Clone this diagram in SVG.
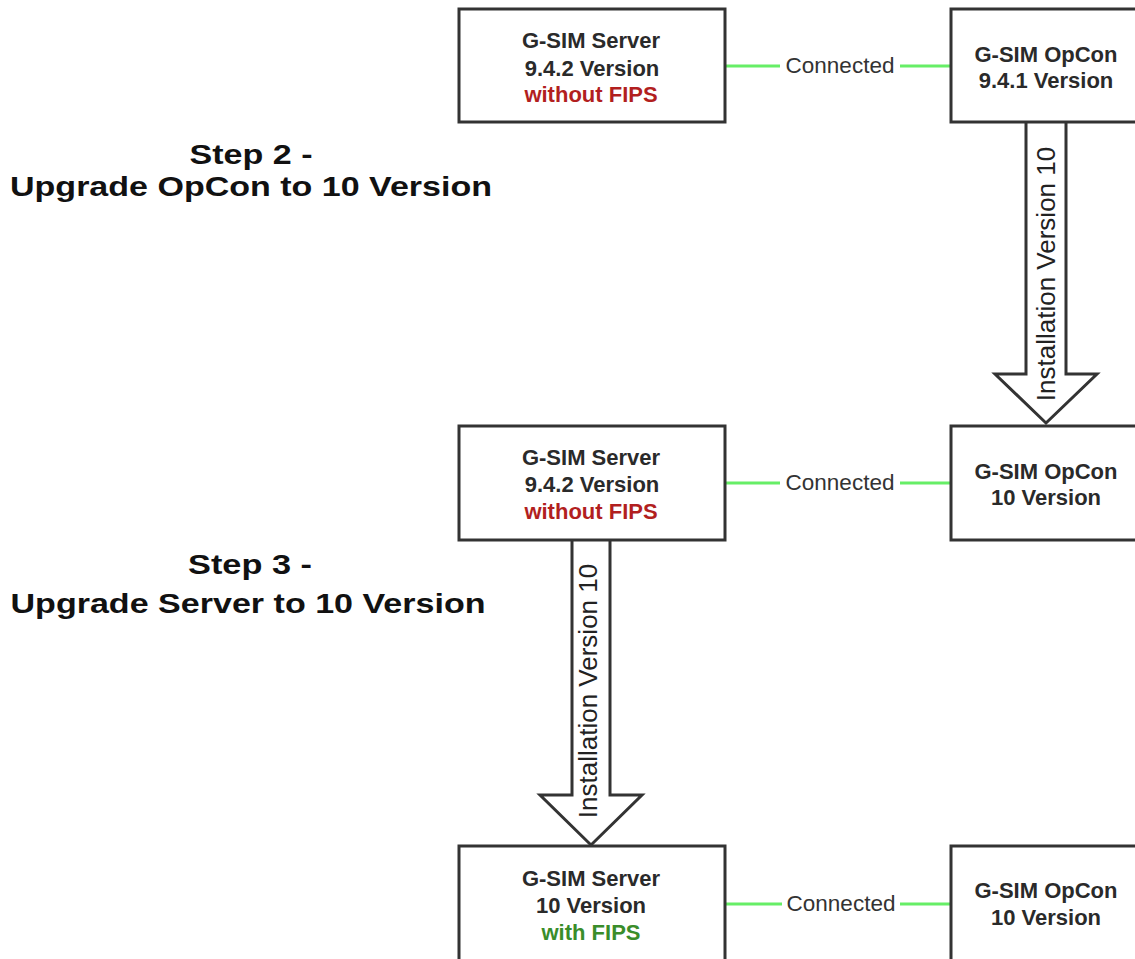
<svg xmlns="http://www.w3.org/2000/svg" width="1135" height="959" viewBox="0 0 1135 959">
<style>
.box{fill:#fff;stroke:#333;stroke-width:3}
.bt{font-family:"Liberation Sans",Arial,sans-serif;font-size:22px;font-weight:bold;fill:#2a2a2a;text-anchor:middle}
.red{fill:#b21f1f}
.grn{fill:#3a8d2a}
.conn{stroke:#66ee66;stroke-width:3;fill:none}
.cl{font-family:"Liberation Sans",Arial,sans-serif;font-size:22.5px;fill:#333;text-anchor:middle}
.arr{fill:#fff;stroke:#333;stroke-width:3;stroke-linejoin:miter}
.al{font-family:"Liberation Sans",Arial,sans-serif;font-size:26px;fill:#222;text-anchor:middle}
.title{font-family:"Liberation Sans",Arial,sans-serif;font-size:28px;font-weight:bold;fill:#111;text-anchor:middle}
</style>
<rect width="1135" height="959" fill="#fff"/>
<g id="connectors">
  <line class="conn" x1="725" y1="66" x2="780" y2="66"/>
  <line class="conn" x1="900" y1="66" x2="951" y2="66"/>
  <text class="cl" x="840" y="73">Connected</text>
  <line class="conn" x1="725" y1="483" x2="780" y2="483"/>
  <line class="conn" x1="900" y1="483" x2="951" y2="483"/>
  <text class="cl" x="840" y="490">Connected</text>
  <line class="conn" x1="725" y1="904" x2="782" y2="904"/>
  <line class="conn" x1="900" y1="904" x2="951" y2="904"/>
  <text class="cl" x="841" y="911">Connected</text>
  <path class="arr" d="M1026,122 L1026,374 L995,374 L1046,423 L1097,374 L1066,374 L1066,122"/>
  <text class="al" transform="translate(1055,274) rotate(-90)">Installation Version 10</text>
  <path class="arr" d="M572,540 L572,795 L540,795 L591,845 L642,795 L610,795 L610,540"/>
  <text class="al" transform="translate(597,691) rotate(-90)">Installation Version 10</text>
</g>
<g id="title2">
  <text class="title" x="251" y="164" textLength="123" lengthAdjust="spacingAndGlyphs">Step 2 -</text>
  <text class="title" x="251" y="196" textLength="482" lengthAdjust="spacingAndGlyphs">Upgrade OpCon to 10 Version</text>
</g>
<g id="title3">
  <text class="title" x="250" y="574" textLength="124" lengthAdjust="spacingAndGlyphs">Step 3 -</text>
  <text class="title" x="248" y="613" textLength="475" lengthAdjust="spacingAndGlyphs">Upgrade Server to 10 Version</text>
</g>
<g id="server1">
  <rect class="box" x="459" y="9" width="266" height="113"/>
  <text class="bt" x="591" y="48">G-SIM Server</text>
  <text class="bt" x="592" y="76">9.4.2 Version</text>
  <text class="bt red" x="591" y="102">without FIPS</text>
</g>
<g id="opcon1">
  <rect class="box" x="951" y="9" width="200" height="113"/>
  <text class="bt" x="1046" y="62">G-SIM OpCon</text>
  <text class="bt" x="1046" y="88">9.4.1 Version</text>
</g>
<g id="server2">
  <rect class="box" x="459" y="426" width="266" height="114"/>
  <text class="bt" x="591" y="465">G-SIM Server</text>
  <text class="bt" x="592" y="492">9.4.2 Version</text>
  <text class="bt red" x="591" y="519">without FIPS</text>
</g>
<g id="opcon2">
  <rect class="box" x="951" y="426" width="200" height="114"/>
  <text class="bt" x="1046" y="479">G-SIM OpCon</text>
  <text class="bt" x="1046" y="505">10 Version</text>
</g>
<g id="server3">
  <rect class="box" x="459" y="846" width="266" height="130"/>
  <text class="bt" x="591" y="886">G-SIM Server</text>
  <text class="bt" x="591" y="913">10 Version</text>
  <text class="bt grn" x="591" y="940">with FIPS</text>
</g>
<g id="opcon3">
  <rect class="box" x="951" y="846" width="200" height="130"/>
  <text class="bt" x="1046" y="898">G-SIM OpCon</text>
  <text class="bt" x="1046" y="925">10 Version</text>
</g>
</svg>
